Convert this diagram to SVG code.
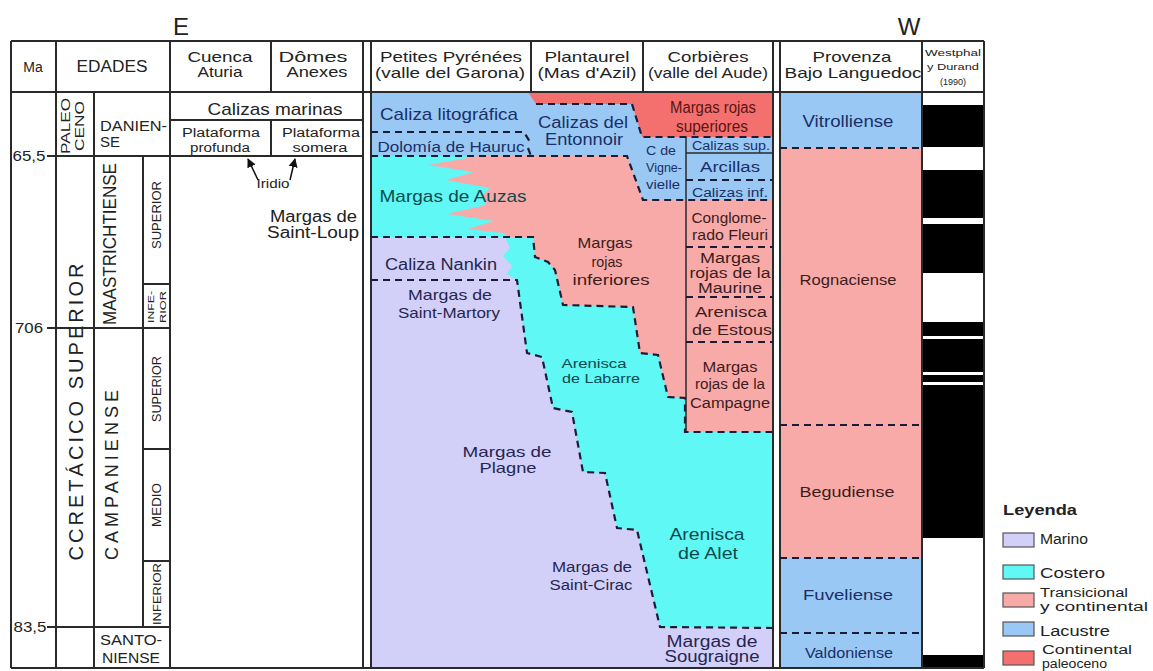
<svg xmlns="http://www.w3.org/2000/svg" width="1153" height="671" viewBox="0 0 1153 671">
<defs>
<style>
text{font-family:"Liberation Sans",Arial,sans-serif;text-anchor:middle}
.hd{font-size:15px;fill:#222}
.ln{stroke:#2a2a2a;stroke-width:2;fill:none}
.ln1{stroke:#2a2a2a;stroke-width:1.5;fill:none}
.ds{stroke:#1c1c36;stroke-width:2.2;stroke-dasharray:7 5;fill:none}
.blue{fill:#99c8f4}
.red{fill:#f4706f}
.pink{fill:#f8aaa9}
.cyan{fill:#5ff8f4}
.lav{fill:#d2d0f8}
.tb{fill:#1a2f66;font-size:15px}
.tr{fill:#5a1414;font-size:15px}
.tp{fill:#3d1c1c;font-size:14px}
.tc{fill:#0c4a4f;font-size:14px}
.tl{fill:#262650;font-size:14px}
.age{fill:#222;font-size:14px}
.lg{fill:#222;font-size:14px;text-anchor:start}
.lg2{fill:#222;font-size:12px;text-anchor:start}
</style>
<marker id="ah" viewBox="0 0 10 10" refX="9" refY="5" markerWidth="6" markerHeight="6" orient="auto-start-reverse">
<path d="M0,0 L10,5 L0,10 z" fill="#111"/>
</marker>
</defs>
<rect width="1153" height="671" fill="#fff"/>

<!-- fills -->
<g id="fills">
<rect class="cyan" x="371" y="156" width="402" height="472"/>
<path class="blue" d="M371,92 H773 V200 H643 L627,156 H371 Z"/>
<path class="red" d="M528,92 H773 V137 H642 L632,104 H536 Z"/>
<path class="pink" d="M478,156 H627 L643,200 H773 V432 H685 V398 L668,397 L658,355 L640,353 L633,307 L563,305 L555,270 L548,262 L535,257 L533,237 H508 L503,233 L468,229 L494,221 L447,214 L486,205 L482,196 L490,188 L446,180 L474,172 L428,165 Z"/>
<path class="lav" d="M371,237 H505 L510,248 L503,256 L512,266 L507,274 L517,280 L517,283 L527,353 L542,357 L553,408 L572,412 L583,472 L605,473 L617,528 L637,530 L660,627 L773,628 V668 H371 Z"/>
<rect class="blue" x="780" y="92" width="142" height="56"/>
<rect class="pink" x="780" y="148" width="142" height="410"/>
<rect class="blue" x="780" y="558" width="142" height="110"/>
<g fill="#000">
<rect x="922" y="105" width="62" height="42"/>
<rect x="922" y="170" width="62" height="48"/>
<rect x="922" y="224" width="62" height="49"/>
<rect x="922" y="322" width="62" height="14"/>
<rect x="922" y="339" width="62" height="33"/>
<rect x="922" y="375" width="62" height="7"/>
<rect x="922" y="385" width="62" height="153"/>
<rect x="922" y="655" width="62" height="13"/>
</g>
</g>

<!-- connectors: grid lines, dashed boundaries, arrows -->
<g id="connectors">
<path class="ln" d="M11,41 H984 M11,92 H984 M11,668 H984"/>
<path class="ln" d="M11,41 V668 M56,41 V668 M94,92 V668 M143,156 V627 M170,41 V668 M271,41 V92 M271,120 V156 M363,41 V668 M371,41 V668 M531,41 V92 M643,41 V92 M773,41 V668 M780,41 V668 M922,41 V668 M984,41 V668"/>
<path class="ln" d="M47,156 H363 M170,120 H363 M47,328 H170 M143,284 H170 M143,449 H170 M143,561 H170 M47,627 H170"/>
<path class="ln1" d="M686,137 V432 M686,153 H773"/>
<path class="ds" d="M371,132 H524 L530,142 M528,148 L531,156"/>
<path class="ds" d="M536,104 H632 L642,137 H773"/>
<path class="ds" d="M371,156 H627 L643,200 H773"/>
<path class="ds" d="M686,180 H773 M686,247 H773 M686,297 H773 M686,342 H773"/>
<path class="ds" d="M371,237 H533 L535,257 L548,262 L555,270 L563,305 L633,307 L640,353 L658,355 L668,397 L685,398 V432 H773"/>
<path class="ds" d="M371,280 H517 L527,353 L542,357 L553,408 L572,412 L583,472 L605,473 L617,528 L637,530 L660,627 L773,628"/>
<path class="ds" d="M780,148 H922 M780,425 H922 M780,558 H922 M780,633 H922"/>
<line x1="258" y1="180" x2="248" y2="159" stroke="#111" stroke-width="1.5" marker-end="url(#ah)"/>
<line x1="290" y1="180" x2="295" y2="159" stroke="#111" stroke-width="1.5" marker-end="url(#ah)"/>
</g>

<!-- headers -->
<g id="compass">
<text x="181" y="35" style="font-size:24px" fill="#222">E</text>
<text x="909" y="35" style="font-size:24px" fill="#222">W</text>
</g>
<g id="headers" class="hd">
<text class="hd" x="33" y="72" style="font-size:14px">Ma</text>
<text class="hd" x="112" y="72" textLength="71" lengthAdjust="spacingAndGlyphs" style="font-size:16px">EDADES</text>
<text class="hd" x="220" y="62" textLength="65" lengthAdjust="spacingAndGlyphs">Cuenca</text>
<text class="hd" x="220" y="77" textLength="45" lengthAdjust="spacingAndGlyphs">Aturia</text>
<text class="hd" x="313" y="62" textLength="69" lengthAdjust="spacingAndGlyphs">Dômes</text>
<text class="hd" x="317" y="77" textLength="61" lengthAdjust="spacingAndGlyphs">Anexes</text>
<text class="hd" x="451" y="62" textLength="142" lengthAdjust="spacingAndGlyphs">Petites Pyrénées</text>
<text class="hd" x="450" y="78" textLength="150" lengthAdjust="spacingAndGlyphs">(valle del Garona)</text>
<text class="hd" x="587" y="62" textLength="85" lengthAdjust="spacingAndGlyphs">Plantaurel</text>
<text class="hd" x="587" y="78" textLength="99" lengthAdjust="spacingAndGlyphs">(Mas d'Azil)</text>
<text class="hd" x="708" y="62" textLength="81" lengthAdjust="spacingAndGlyphs">Corbières</text>
<text class="hd" x="708" y="78" textLength="120" lengthAdjust="spacingAndGlyphs">(valle del Aude)</text>
<text class="hd" x="852" y="62" textLength="79" lengthAdjust="spacingAndGlyphs">Provenza</text>
<text class="hd" x="853" y="78" textLength="137" lengthAdjust="spacingAndGlyphs">Bajo Languedoc</text>
<text x="953" y="56" style="font-size:9px" fill="#222" textLength="56" lengthAdjust="spacingAndGlyphs">Westphal</text>
<text x="953" y="70" style="font-size:9px" fill="#222" textLength="52" lengthAdjust="spacingAndGlyphs">y Durand</text>
<text x="953" y="85" style="font-size:9px" fill="#222">(1990)</text>
</g>

<!-- time scale -->
<g id="ages" class="age">
<text class="age" x="29" y="161" textLength="33" lengthAdjust="spacingAndGlyphs">65,5</text>
<text class="age" x="29" y="333" textLength="28" lengthAdjust="spacingAndGlyphs">706</text>
<text class="age" x="30" y="632" textLength="33" lengthAdjust="spacingAndGlyphs">83,5</text>
</g>
<g id="edades" fill="#222">
<text transform="translate(70,126) rotate(-90)" style="font-size:13px" textLength="56" lengthAdjust="spacingAndGlyphs">PALEO</text>
<text transform="translate(84,126) rotate(-90)" style="font-size:13px" textLength="50" lengthAdjust="spacingAndGlyphs">CENO</text>
<text x="100" y="131" style="font-size:15px;text-anchor:start" textLength="67" lengthAdjust="spacingAndGlyphs">DANIEN-</text>
<text x="100" y="147" style="font-size:15px;text-anchor:start">SE</text>
<text transform="translate(83,412) rotate(-90)" style="font-size:20px" textLength="297" lengthAdjust="spacing">CCRETÁCICO SUPERIOR</text>
<text transform="translate(116,244) rotate(-90)" style="font-size:19px" textLength="162" lengthAdjust="spacingAndGlyphs">MAASTRICHTIENSE</text>
<text transform="translate(118,475) rotate(-90)" style="font-size:18px" textLength="170" lengthAdjust="spacing">CAMPANIENSE</text>
<text transform="translate(161,215) rotate(-90)" style="font-size:12px" textLength="68" lengthAdjust="spacingAndGlyphs">SUPERIOR</text>
<text transform="translate(154,307) rotate(-90)" style="font-size:9px" textLength="32" lengthAdjust="spacingAndGlyphs">INFE-</text>
<text transform="translate(166,307) rotate(-90)" style="font-size:9px" textLength="32" lengthAdjust="spacingAndGlyphs">RIOR</text>
<text transform="translate(161,389) rotate(-90)" style="font-size:12px" textLength="66" lengthAdjust="spacingAndGlyphs">SUPERIOR</text>
<text transform="translate(161,505) rotate(-90)" style="font-size:12px" textLength="44" lengthAdjust="spacingAndGlyphs">MEDIO</text>
<text transform="translate(161,594) rotate(-90)" style="font-size:11px" textLength="62" lengthAdjust="spacingAndGlyphs">INFERIOR</text>
<text x="131" y="645" style="font-size:14px" textLength="62" lengthAdjust="spacingAndGlyphs">SANTO-</text>
<text x="131" y="663" style="font-size:14px" textLength="58" lengthAdjust="spacingAndGlyphs">NIENSE</text>
</g>

<!-- Cuenca Aturia / Dômes Anexes -->
<g id="aturia" fill="#222">
<text x="275" y="115" style="font-size:17px" textLength="135" lengthAdjust="spacingAndGlyphs">Calizas marinas</text>
<text x="221" y="137" style="font-size:12px" textLength="78" lengthAdjust="spacingAndGlyphs">Plataforma</text>
<text x="220" y="152" style="font-size:12px" textLength="60" lengthAdjust="spacingAndGlyphs">profunda</text>
<text x="321" y="137" style="font-size:12px" textLength="78" lengthAdjust="spacingAndGlyphs">Plataforma</text>
<text x="320" y="152" style="font-size:12px" textLength="55" lengthAdjust="spacingAndGlyphs">somera</text>
<text x="273" y="188" style="font-size:12px" textLength="33" lengthAdjust="spacingAndGlyphs">Iridio</text>
<text x="357" y="222" style="font-size:16px;text-anchor:end" textLength="87" lengthAdjust="spacingAndGlyphs">Margas de</text>
<text x="359" y="238" style="font-size:16px;text-anchor:end" textLength="92" lengthAdjust="spacingAndGlyphs">Saint-Loup</text>
</g>

<!-- basin units -->
<g id="petites-pyrenees">
<text class="tb" x="449" y="120" style="font-size:17px" textLength="138" lengthAdjust="spacingAndGlyphs">Caliza litográfica</text>
<text class="tb" x="451" y="152" style="font-size:15px" textLength="147" lengthAdjust="spacingAndGlyphs">Dolomía de Hauruc</text>
<text class="tc" x="453" y="202" style="font-size:17px" textLength="147" lengthAdjust="spacingAndGlyphs">Margas de Auzas</text>
<text class="tl" x="441" y="270" style="font-size:16px" textLength="112" lengthAdjust="spacingAndGlyphs">Caliza Nankin</text>
<text class="tl" x="450" y="300" style="font-size:15px" textLength="84" lengthAdjust="spacingAndGlyphs">Margas de</text>
<text class="tl" x="449" y="318" style="font-size:15px" textLength="102" lengthAdjust="spacingAndGlyphs">Saint-Martory</text>
<text class="tl" x="507" y="457" style="font-size:15px" textLength="89" lengthAdjust="spacingAndGlyphs">Margas de</text>
<text class="tl" x="508" y="473" style="font-size:15px" textLength="57" lengthAdjust="spacingAndGlyphs">Plagne</text>
<text class="tl" x="592" y="572" style="font-size:14px" textLength="80" lengthAdjust="spacingAndGlyphs">Margas de</text>
<text class="tl" x="591" y="590" style="font-size:14px" textLength="83" lengthAdjust="spacingAndGlyphs">Saint-Cirac</text>
</g>
<g id="plantaurel">
<text class="tb" x="583" y="128" style="font-size:16px" textLength="90" lengthAdjust="spacingAndGlyphs">Calizas del</text>
<text class="tb" x="584" y="145" style="font-size:16px" textLength="78" lengthAdjust="spacingAndGlyphs">Entonnoir</text>
<text class="tp" x="605" y="248" style="font-size:15px" textLength="55" lengthAdjust="spacingAndGlyphs">Margas</text>
<text class="tp" x="607" y="267" style="font-size:15px" textLength="31" lengthAdjust="spacingAndGlyphs">rojas</text>
<text class="tp" x="611" y="285" style="font-size:15px" textLength="77" lengthAdjust="spacingAndGlyphs">inferiores</text>
<text class="tc" x="594" y="368" style="font-size:13px" textLength="65" lengthAdjust="spacingAndGlyphs">Arenisca</text>
<text class="tc" x="601" y="383" style="font-size:13px" textLength="78" lengthAdjust="spacingAndGlyphs">de Labarre</text>
</g>
<g id="corbieres">
<text class="tr" x="713" y="113" style="font-size:16px" textLength="86" lengthAdjust="spacingAndGlyphs">Margas rojas</text>
<text class="tr" x="712" y="132" style="font-size:16px" textLength="72" lengthAdjust="spacingAndGlyphs">superiores</text>
<text class="tb" x="661" y="155" style="font-size:12px" textLength="30" lengthAdjust="spacingAndGlyphs">C de</text>
<text class="tb" x="664" y="172" style="font-size:12px" textLength="36" lengthAdjust="spacingAndGlyphs">Vigne-</text>
<text class="tb" x="663" y="189" style="font-size:12px" textLength="34" lengthAdjust="spacingAndGlyphs">vielle</text>
<text class="tb" x="731" y="150" style="font-size:12px" textLength="78" lengthAdjust="spacingAndGlyphs">Calizas sup.</text>
<text class="tb" x="730" y="172" style="font-size:14px" textLength="60" lengthAdjust="spacingAndGlyphs">Arcillas</text>
<text class="tb" x="730" y="197" style="font-size:12px" textLength="76" lengthAdjust="spacingAndGlyphs">Calizas inf.</text>
<text class="tp" x="729" y="223" style="font-size:14px" textLength="75" lengthAdjust="spacingAndGlyphs">Conglome-</text>
<text class="tp" x="730" y="240" style="font-size:14px" textLength="76" lengthAdjust="spacingAndGlyphs">rado Fleuri</text>
<text class="tp" x="730" y="263" style="font-size:14px" textLength="60" lengthAdjust="spacingAndGlyphs">Margas</text>
<text class="tp" x="730" y="278" style="font-size:14px" textLength="81" lengthAdjust="spacingAndGlyphs">rojas de la</text>
<text class="tp" x="730" y="293" style="font-size:14px" textLength="64" lengthAdjust="spacingAndGlyphs">Maurine</text>
<text class="tp" x="731" y="317" style="font-size:14px" textLength="72" lengthAdjust="spacingAndGlyphs">Arenisca</text>
<text class="tp" x="732" y="335" style="font-size:14px" textLength="80" lengthAdjust="spacingAndGlyphs">de Estous</text>
<text class="tp" x="730" y="372" style="font-size:14px" textLength="55" lengthAdjust="spacingAndGlyphs">Margas</text>
<text class="tp" x="730" y="389" style="font-size:14px" textLength="70" lengthAdjust="spacingAndGlyphs">rojas de la</text>
<text class="tp" x="730" y="408" style="font-size:14px" textLength="80" lengthAdjust="spacingAndGlyphs">Campagne</text>
<text class="tc" x="707" y="540" style="font-size:16px" textLength="75" lengthAdjust="spacingAndGlyphs">Arenisca</text>
<text class="tc" x="708" y="559" style="font-size:16px" textLength="60" lengthAdjust="spacingAndGlyphs">de Alet</text>
<text class="tl" x="712" y="647" style="font-size:16px" textLength="91" lengthAdjust="spacingAndGlyphs">Margas de</text>
<text class="tl" x="712" y="662" style="font-size:16px" textLength="95" lengthAdjust="spacingAndGlyphs">Sougraigne</text>
</g>
<g id="provenza">
<text class="tb" x="848" y="127" style="font-size:16px" textLength="91" lengthAdjust="spacingAndGlyphs">Vitrolliense</text>
<text class="tp" x="848" y="285" style="font-size:15px" textLength="97" lengthAdjust="spacingAndGlyphs">Rognaciense</text>
<text class="tp" x="847" y="497" style="font-size:15px" textLength="95" lengthAdjust="spacingAndGlyphs">Begudiense</text>
<text class="tb" x="848" y="600" style="font-size:15px" textLength="90" lengthAdjust="spacingAndGlyphs">Fuveliense</text>
<text class="tb" x="849" y="658" style="font-size:14px" textLength="88" lengthAdjust="spacingAndGlyphs">Valdoniense</text>
</g>

<!-- legend -->
<g id="legend">
<text class="lg" x="1003" y="515" style="font-weight:bold" textLength="74" lengthAdjust="spacingAndGlyphs">Leyenda</text>
<rect x="1003" y="533" width="31" height="14" fill="#d2d0f8" stroke="#555" stroke-width="1.2"/>
<text class="lg" x="1040" y="544" textLength="48" lengthAdjust="spacingAndGlyphs">Marino</text>
<rect x="1003" y="565" width="31" height="14" fill="#5ff8f4" stroke="#555" stroke-width="1.2"/>
<text class="lg" x="1040" y="578" textLength="65" lengthAdjust="spacingAndGlyphs">Costero</text>
<rect x="1003" y="593" width="31" height="14" fill="#f8aaa9" stroke="#555" stroke-width="1.2"/>
<text class="lg2" x="1040" y="597" textLength="88" lengthAdjust="spacingAndGlyphs">Transicional</text>
<text class="lg2" x="1040" y="611" textLength="108" lengthAdjust="spacingAndGlyphs">y continental</text>
<rect x="1003" y="622" width="31" height="14" fill="#99c8f4" stroke="#555" stroke-width="1.2"/>
<text class="lg" x="1040" y="636" textLength="70" lengthAdjust="spacingAndGlyphs">Lacustre</text>
<rect x="1003" y="651" width="31" height="14" fill="#f4706f" stroke="#555" stroke-width="1.2"/>
<text class="lg2" x="1042" y="654" textLength="90" lengthAdjust="spacingAndGlyphs">Continental</text>
<text class="lg2" x="1042" y="668" textLength="65" lengthAdjust="spacingAndGlyphs">paleoceno</text>
</g>
</svg>
